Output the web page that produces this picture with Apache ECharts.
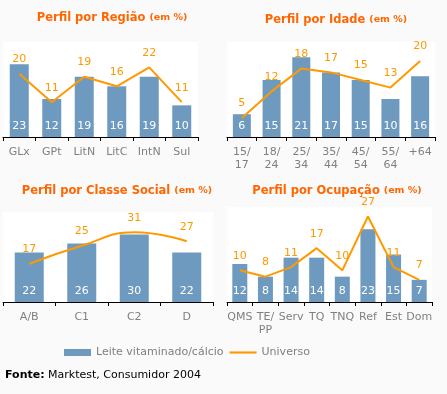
<!DOCTYPE html>
<html><head><meta charset="utf-8">
<script src="https://cdn.jsdelivr.net/npm/echarts@6/dist/echarts.min.js"></script>
<style>html,body{margin:0;padding:0;background:#FAFAFA}#c{width:447px;height:394px}</style>
</head><body><div id="c"></div>
<script>
var regiaoCats = ['GLx','GPt','LitN','LitC','IntN','Sul'];
var regiaoLeite = [23,12,19,16,19,10];
var regiaoUniverso = [20,11,19,16,22,11];

var idadeCats = ['15/\n17','18/\n24','25/\n34','35/\n44','45/\n54','55/\n64','+64'];
var idadeLeite = [6,15,21,17,15,10,16];
var idadeUniverso = [5,12,18,17,15,13,20];

var classeCats = ['A/B','C1','C2','D'];
var classeLeite = [22,26,30,22];
var classeUniverso = [17,25,31,27];

var ocupCats = ['QMS','TE/\nPP','Serv','TQ','TNQ','Ref','Est','Dom'];
var ocupLeite = [12,8,14,14,8,23,15,7];
var ocupUniverso = [10,8,11,17,10,27,11,7];

var titles = ['Perfil por Região','Perfil por Idade','Perfil por Classe Social','Perfil por Ocupação'];
var barName = 'Leite vitaminado/cálcio';
var lineName = 'Universo';

var FONT = 'DejaVu Sans';
var BAR = '#6E9AC0', LINE = '#FF9900', TITLE = '#FF6600', GRAY = '#808080';

var chart = echarts.init(document.getElementById('c'));

var grids = [
  {left:3, top:42, width:195, height:95, max:30, barWidth:19, cx:112, ty:12},
  {left:227, top:42, width:208, height:95, max:25, barWidth:18, cx:336, ty:14},
  {left:3, top:212, width:210, height:90, max:40, barWidth:29, cx:117, ty:185},
  {left:227, top:207, width:205, height:95, max:30, barWidth:15, cx:337, ty:185}
];
var cats = [regiaoCats, idadeCats, classeCats, ocupCats];
var bars = [regiaoLeite, idadeLeite, classeLeite, ocupLeite];
var lines = [regiaoUniverso, idadeUniverso, classeUniverso, ocupUniverso];
var smooth = [false,false,true,false];

var option = {
  backgroundColor:'#FAFAFA',
  animation:false,
  textStyle:{fontFamily:FONT},
  title: grids.map(function(g,i){
    return {
      text:'{a|'+titles[i]+' }{b|(em %)}',
      left:g.cx, top:g.ty, textAlign:'center', padding:0,
      textStyle:{rich:{
        a:{fontFamily:FONT,fontWeight:'bold',fontSize:11.5,color:TITLE},
        b:{fontFamily:FONT,fontWeight:'bold',fontSize:9.5,color:TITLE}
      }}
    };
  }).concat([{
    text:'{b|Fonte:} Marktest, Consumidor 2004',
    left:5, top:370, padding:0,
    textStyle:{rich:{
      b:{fontFamily:FONT,fontWeight:'bold',fontSize:11,color:'#000'}
    },fontFamily:FONT,fontSize:11,color:'#000',fontWeight:'normal'}
  }]),
  legend:{
    left:64, top:347, itemWidth:27, itemHeight:7, itemGap:6, padding:0,
    textStyle:{fontFamily:FONT,fontSize:11,color:GRAY},
    data:[{name:barName, icon:'rect'},{name:lineName, icon:'path://M0,0H100V8H0Z', symbolKeepAspect:true}]
  },
  grid: grids.map(function(g){
    return {left:g.left, top:g.top, width:g.width, height:g.height,
      show:true, backgroundColor:'#FFFFFF', borderWidth:0};
  }),
  xAxis: grids.map(function(g,i){
    return {type:'category', gridIndex:i, data:cats[i],
      axisLine:{lineStyle:{color:'#000',width:1}},
      axisTick:{show:true,length:4,lineStyle:{color:'#000'}},
      axisLabel:{color:GRAY,fontFamily:FONT,fontSize:11,margin:9,lineHeight:13,interval:0}};
  }),
  yAxis: grids.map(function(g,i){
    return {type:'value', gridIndex:i, min:0, max:g.max, show:false,
      splitLine:{show:false}};
  }),
  series: []
};
grids.forEach(function(g,i){
  option.series.push({
    type:'bar', name:barName, xAxisIndex:i, yAxisIndex:i, data:bars[i],
    barWidth:g.barWidth, itemStyle:{color:BAR},
    label:{show:true, position:'insideBottom', distance:5, color:'#fff',
      fontFamily:FONT, fontSize:11}
  });
  option.series.push({
    type:'line', name:lineName, xAxisIndex:i, yAxisIndex:i, data:lines[i],
    smooth:smooth[i], symbol:'circle', symbolSize:0, z:5,
    itemStyle:{color:LINE}, lineStyle:{color:LINE,width:2},
    label:{show:true, position:'top', distance:9, color:LINE,
      fontFamily:FONT, fontSize:11}
  });
});
chart.setOption(option);
</script></body></html>
